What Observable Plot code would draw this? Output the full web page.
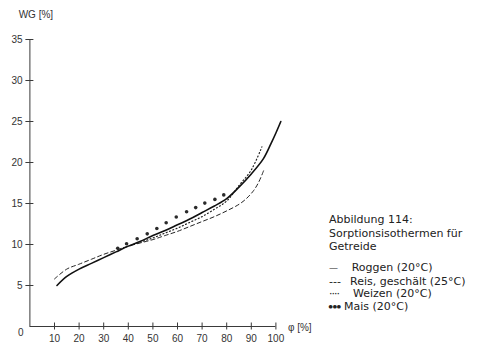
<!DOCTYPE html>
<html>
<head>
<meta charset="utf-8">
<script src="https://cdn.jsdelivr.net/npm/d3@7"></script>
<script src="https://cdn.jsdelivr.net/npm/@observablehq/plot@0.6"></script>
<style>
  html, body { margin: 0; padding: 0; background: #fff; }
  #wrap { position: relative; width: 483px; height: 359px; overflow: hidden; }
  .cap { position: absolute; font-family: "DejaVu Sans", Verdana, sans-serif; font-size: 11px; line-height: 13px; color: #222; white-space: nowrap; }
</style>
</head>
<body>
<div id="wrap"></div>
<script>
// ---- data ----
const xTicks = [10, 20, 30, 40, 50, 60, 70, 80, 90, 100];
const yTicks = [5, 10, 15, 20, 25, 30, 35];

const phiRoggen = [11, 15, 20, 25, 30, 35, 40, 45, 50, 55, 60, 65, 70, 75, 80, 85, 90, 95, 98, 100, 102];
const wgRoggen  = [5.0, 6.1, 7.0, 7.7, 8.4, 9.1, 9.8, 10.4, 11.1, 11.7, 12.4, 13.1, 13.9, 14.7, 15.6, 17.0, 18.6, 20.5, 22.3, 23.6, 25.0];

const phiReis = [10, 15, 20, 25, 30, 35, 40, 45, 50, 55, 60, 65, 70, 75, 80, 85, 88, 91, 93, 95];
const wgReis  = [5.8, 7.0, 7.6, 8.2, 8.8, 9.3, 9.8, 10.2, 10.6, 11.1, 11.6, 12.2, 12.8, 13.4, 14.1, 14.9, 15.6, 16.6, 17.6, 19.0];

const phiWeizen = [38, 45, 50, 55, 60, 65, 70, 75, 80, 85, 90, 94.3];
const wgWeizen  = [9.6, 10.3, 10.8, 11.4, 12.0, 12.7, 13.4, 14.3, 15.3, 17.2, 19.1, 21.9];

const phiMais = [35.7, 39.3, 43.6, 47.7, 51.6, 55.4, 59.5, 63.7, 67.4, 71.1, 75.2, 78.8];
const wgMais  = [9.55, 10.1, 10.7, 11.3, 11.95, 12.65, 13.35, 14.0, 14.5, 15.05, 15.5, 16.05];

const yLabel = "WG [%]";
const xLabel = "φ [%]";
const zeroLabel = "0";
const captionLines = ["Abbildung 114:", "Sorptionsisothermen für", "Getreide"];
const legendSymbols = ["—", "---", "····", "●●●"];
const legendNames = ["Roggen (20°C)", "Reis, geschält (25°C)", "Weizen (20°C)", "Mais (20°C)"];

// ---- tables ----
const zip = (xs, ys) => xs.map((x, i) => ({x, y: ys[i]}));
const roggen = zip(phiRoggen, wgRoggen);
const reis = zip(phiReis, wgReis);
const weizen = zip(phiWeizen, wgWeizen);
const mais = zip(phiMais, wgMais);

const axisColor = "#3a3a3a";
const font = "'Liberation Sans', Arial, sans-serif";

const chart = Plot.plot({
  width: 483,
  height: 359,
  marginLeft: 29.4,
  marginRight: 207.6,
  marginTop: 39,
  marginBottom: 33,
  style: {fontFamily: font, fontSize: "10px", color: "#333", background: "#fff", overflow: "visible"},
  x: {domain: [0, 100], axis: null},
  y: {domain: [0, 35], axis: null},
  marks: [
    Plot.ruleY([0], {x1: 0, x2: 100, stroke: axisColor, strokeWidth: 1}),
    Plot.ruleX([0], {y1: 0, y2: 35, stroke: axisColor, strokeWidth: 1}),
    Plot.axisX({ticks: xTicks, label: null, tickSize: 7, dy: -3.5, tickPadding: 4.5, stroke: axisColor, fill: "#333"}),
    Plot.axisY({ticks: yTicks, label: null, tickSize: 8, dx: 4, tickPadding: 3.4, stroke: axisColor, fill: "#333"}),
    Plot.text([zeroLabel], {x: 0, y: 0, text: d => d, dx: -9, dy: 6.5, fill: "#333", fontSize: 10}),
    Plot.text([yLabel], {x: 0, y: 35, text: d => d, dx: 6, dy: -25, fill: "#333", fontSize: 10}),
    Plot.text([xLabel], {x: 100, y: 0, text: d => d, dx: 12, dy: 1.5, textAnchor: "start", fill: "#333", fontSize: 10}),
    Plot.line(reis, {x: "x", y: "y", curve: "catmull-rom", stroke: "#222", strokeWidth: 1, strokeDasharray: "4,3", clip: false}),
    Plot.line(weizen, {x: "x", y: "y", curve: "catmull-rom", stroke: "#222", strokeWidth: 1.2, strokeDasharray: "1,2.5", clip: false}),
    Plot.line(roggen, {x: "x", y: "y", curve: "catmull-rom", stroke: "#111", strokeWidth: 1.6, clip: false}),
    Plot.dot(mais, {x: "x", y: "y", r: 1.8, fill: "#2a2a2a", stroke: "none"})
  ]
});

const wrap = document.getElementById("wrap");
wrap.appendChild(chart);

// caption + legend (HTML text beside the plot)
const capTops = [212.7, 227.2, 239.7];
captionLines.forEach((t, i) => {
  const d = document.createElement("div");
  d.className = "cap";
  d.style.left = "329px";
  d.style.top = capTops[i] + "px";
  d.textContent = t;
  wrap.appendChild(d);
});
const legTops = [260.7, 274.7, 287.4, 299.7];
const legTextX = [351.7, 350, 353, 344];
const symStyles = [
  {fontSize: "9px", letterSpacing: "0px", top: 1},
  {fontSize: "11px", letterSpacing: "0px", top: 0},
  {fontSize: "11px", letterSpacing: "-1px", top: 0},
  {fontSize: "4.8px", letterSpacing: "0px", top: 0}
];
legendNames.forEach((t, i) => {
  const s = document.createElement("div");
  s.className = "cap";
  s.style.left = (i === 3 ? 328.5 : 329) + "px";
  s.style.top = (legTops[i] + symStyles[i].top) + "px";
  s.style.fontSize = symStyles[i].fontSize;
  s.style.letterSpacing = symStyles[i].letterSpacing;
  s.textContent = legendSymbols[i];
  wrap.appendChild(s);
  const d = document.createElement("div");
  d.className = "cap";
  d.style.left = legTextX[i] + "px";
  d.style.top = legTops[i] + "px";
  d.textContent = t;
  wrap.appendChild(d);
});
</script>
</body>
</html>
